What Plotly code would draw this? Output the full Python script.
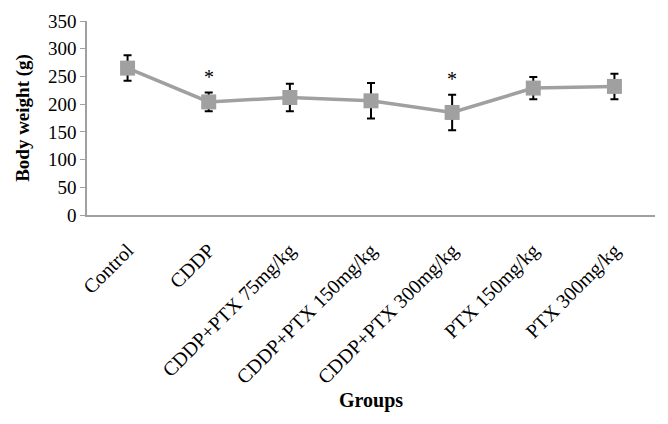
import plotly.graph_objects as go

groups = ["Control", "CDDP", "CDDP+PTX 75mg/kg", "CDDP+PTX 150mg/kg",
          "CDDP+PTX 300mg/kg", "PTX 150mg/kg", "PTX 300mg/kg"]
body_weight = [265, 204, 212, 206, 185, 229, 232]
sd = [23, 17, 25, 32, 32, 20, 23]
significant = [False, True, False, False, True, False, False]
y_ticks = [0, 50, 100, 150, 200, 250, 300, 350]

FONT = "Liberation Serif, Times New Roman, serif"

# page body has an 8px default margin; compensate so the plot lands in place
TOP, BOTTOM = 13, 217

fig = go.Figure()
fig.add_trace(go.Scatter(
    x=groups, y=body_weight,
    mode="lines+markers",
    line=dict(color="#a0a0a0", width=3.5),
    marker=dict(symbol="square", size=15, color="#a0a0a0"),
    error_y=dict(type="data", array=sd, visible=True, color="black",
                 thickness=2, width=4),
    showlegend=False,
))

for g, v, s, sig in zip(groups, body_weight, sd, significant):
    if sig:
        fig.add_annotation(x=g, y=v + s, text="*", showarrow=False,
                           yanchor="bottom", yshift=3,
                           font=dict(family=FONT, size=20, color="black"))

fig.update_layout(
    width=668, height=424,
    margin=dict(l=79, r=21, t=TOP, b=BOTTOM, autoexpand=False),
    paper_bgcolor="white", plot_bgcolor="white",
    font=dict(family=FONT, color="black"),
    xaxis=dict(
        type="category", range=[-0.5, 6.5], automargin=False,
        showgrid=False, showline=True, linecolor="#a0a0a0", linewidth=1.5,
        ticks="", tickangle=-45, ticklabelstandoff=14,
        tickfont=dict(family=FONT, size=20, color="black"),
    ),
    yaxis=dict(
        range=[0, 350], tickvals=y_ticks, automargin=False,
        showgrid=False, showline=True, linecolor="#a0a0a0", linewidth=1.5,
        ticks="outside", ticklen=5, tickcolor="#a0a0a0",
        tickfont=dict(family=FONT, size=19, color="black"),
        title=dict(text="<b>Body weight (g)</b>", standoff=13,
                   font=dict(family=FONT, size=19, color="black")),
        zeroline=False,
    ),
)

plot_h = 424 - TOP - BOTTOM
groups_y = -((392 - (424 - BOTTOM)) / plot_h)
fig.add_annotation(x=0.5, xref="paper", y=groups_y, yref="paper", yanchor="middle",
                   text="<b>Groups</b>", showarrow=False,
                   font=dict(family=FONT, size=20, color="black"))

fig.write_html("out.html")
